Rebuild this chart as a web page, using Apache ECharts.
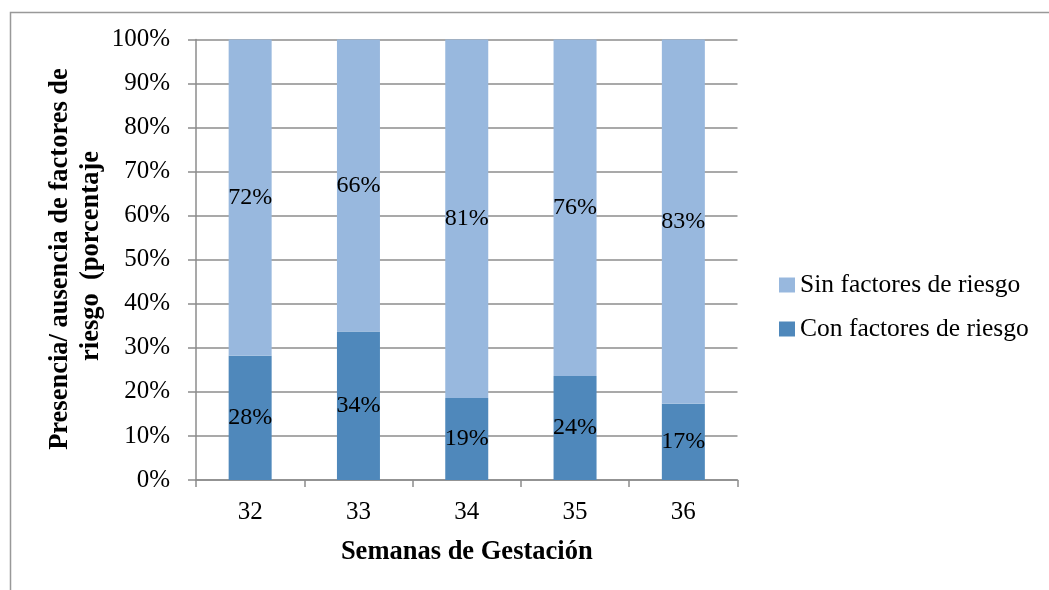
<!DOCTYPE html>
<html>
<head>
<meta charset="utf-8">
<script src="https://cdn.jsdelivr.net/npm/echarts@6/dist/echarts.min.js"></script>
<style>
  html, body { margin: 0; padding: 0; background: #fff; }
  #chart { width: 1049px; height: 590px; }
</style>
</head>
<body>
<div id="chart"></div>
<script>
// semanas de gestación
const weeks = ['32', '33', '34', '35', '36'];
const conFactores = [28.2, 33.7, 18.6, 23.6, 17.3];
const sinFactores = [71.8, 66.3, 81.4, 76.4, 82.7];
const yTicks = [0, 10, 20, 30, 40, 50, 60, 70, 80, 90, 100];

const serif = '"Liberation Serif", "Times New Roman", serif';
const gray = '#8c8c8c';

let chart = echarts.init(document.getElementById('chart'), null, { renderer: 'canvas' });

let labelStyle = {
    show: true,
    position: 'inside',
    color: '#000',
    fontFamily: serif,
    fontSize: 24,
    formatter: p => Math.round(p.value) + '%'
};

let option = {
    backgroundColor: '#fff',
    animation: false,
    textStyle: { fontFamily: serif },
    grid: { left: 196, right: 311.5, top: 39.5, bottom: 110, containLabel: false },
    legend: {
        orient: 'vertical',
        left: 774,
        top: 267,
        itemWidth: 16,
        itemHeight: 15,
        itemGap: 18,
        icon: 'rect',
        data: ['Sin factores de riesgo', 'Con factores de riesgo'],
        textStyle: { fontFamily: serif, fontSize: 25.5, color: '#000' }
    },
    xAxis: {
        type: 'category',
        data: weeks,
        axisLine: { lineStyle: { color: gray, width: 1.5 } },
        axisTick: { show: true, length: 7, lineStyle: { color: gray, width: 1.5 } },
        axisLabel: { color: '#000', fontFamily: serif, fontSize: 25, margin: 20 },
        name: 'Semanas de Gestación',
        nameLocation: 'middle',
        nameGap: 59,
        nameTextStyle: { color: '#000', fontFamily: serif, fontSize: 26.5, fontWeight: 'bold' }
    },
    yAxis: {
        type: 'value',
        min: 0,
        max: 100,
        interval: 10,
        axisLine: { show: true, lineStyle: { color: gray, width: 1.5 } },
        axisTick: { show: true, length: 8, lineStyle: { color: gray, width: 1.5 } },
        splitLine: { lineStyle: { color: gray, width: 1.5 } },
        axisLabel: {
            color: '#000', fontFamily: serif, fontSize: 25, margin: 26,
            formatter: v => yTicks.includes(v) ? v + '%' : ''
        }
    },
    series: [
        {
            name: 'Con factores de riesgo',
            type: 'bar',
            stack: 'total',
            barWidth: 43,
            data: conFactores,
            itemStyle: { color: '#4f88bb' },
            label: labelStyle
        },
        {
            name: 'Sin factores de riesgo',
            type: 'bar',
            stack: 'total',
            barWidth: 43,
            data: sinFactores,
            itemStyle: { color: '#98b8de' },
            label: labelStyle
        }
    ],
    graphic: [
        // marco del gráfico (sólo se ven los bordes superior e izquierdo)
        {
            type: 'rect',
            left: 8, top: 10,
            shape: { width: 1200, height: 800 },
            style: { fill: 'none', stroke: '#999', lineWidth: 1.5 },
            silent: true
        },
        {
            type: 'text',
            x: 60, y: 259,
            rotation: Math.PI / 2,
            style: {
                text: 'Presencia/ ausencia de factores de',
                font: 'bold 26.5px ' + serif,
                fill: '#000',
                align: 'center',
                verticalAlign: 'middle'
            }
        },
        {
            type: 'text',
            x: 91, y: 256,
            rotation: Math.PI / 2,
            style: {
                text: 'riesgo  (porcentaje',
                font: 'bold 26.5px ' + serif,
                fill: '#000',
                align: 'center',
                verticalAlign: 'middle'
            }
        }
    ]
};

chart.setOption(option);
</script>
</body>
</html>
